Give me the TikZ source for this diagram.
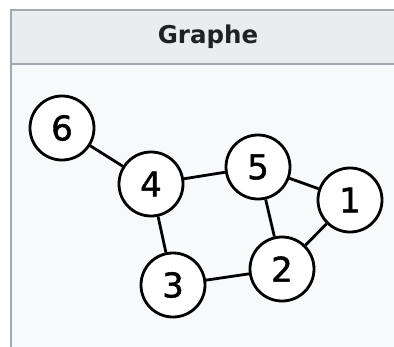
\documentclass[tikz,border=0pt]{standalone}
\usepackage{fontspec}
\setmainfont{DejaVu Sans}
\newfontfamily\chiffre[FakeBold=1.5]{DejaVu Sans}
\usepackage{tikz}
\definecolor{hdbg}{HTML}{EAECF0}
\definecolor{bdbg}{HTML}{F8F9FA}
\definecolor{frm}{HTML}{A2A9B1}
\definecolor{hdtxt}{HTML}{202122}

\begin{document}
\begin{tikzpicture}[x=1pt,y=-1pt,
  vtx/.style={circle,draw=black,fill=white,line width=2.8pt,minimum size=64pt,inner sep=0pt,font=\chiffre\fontsize{34}{34}\selectfont},
  edg/.style={line width=2.8pt,black}]
\useasboundingbox (0,0) rectangle (394,346);
% table frame
\fill[bdbg] (11,63) rectangle (400,350);
\fill[hdbg] (11,10) rectangle (400,63);
\draw[frm,line width=2.2pt] (400,10.3) -- (11.3,10.3) -- (11.3,350);
\draw[frm,line width=2.2pt] (11.3,63.6) -- (400,63.6);
\node[font=\bfseries\fontsize{24.5}{24.5}\selectfont,text=hdtxt] (titre) at (208,37) {Graphe};
% vertices
\foreach \n/\x/\y in {1/350/200,2/282/269,3/173/285,4/151/184,5/258/167,6/62/128}{
   \node[vtx] (v\n) at (\x,\y) {\n};
}
% edges
\foreach \a/\b in {6/4,4/5,4/3,3/2,5/2,5/1,1/2}{
   \draw[edg] (v\a) -- (v\b);
}
\end{tikzpicture}
\end{document}
